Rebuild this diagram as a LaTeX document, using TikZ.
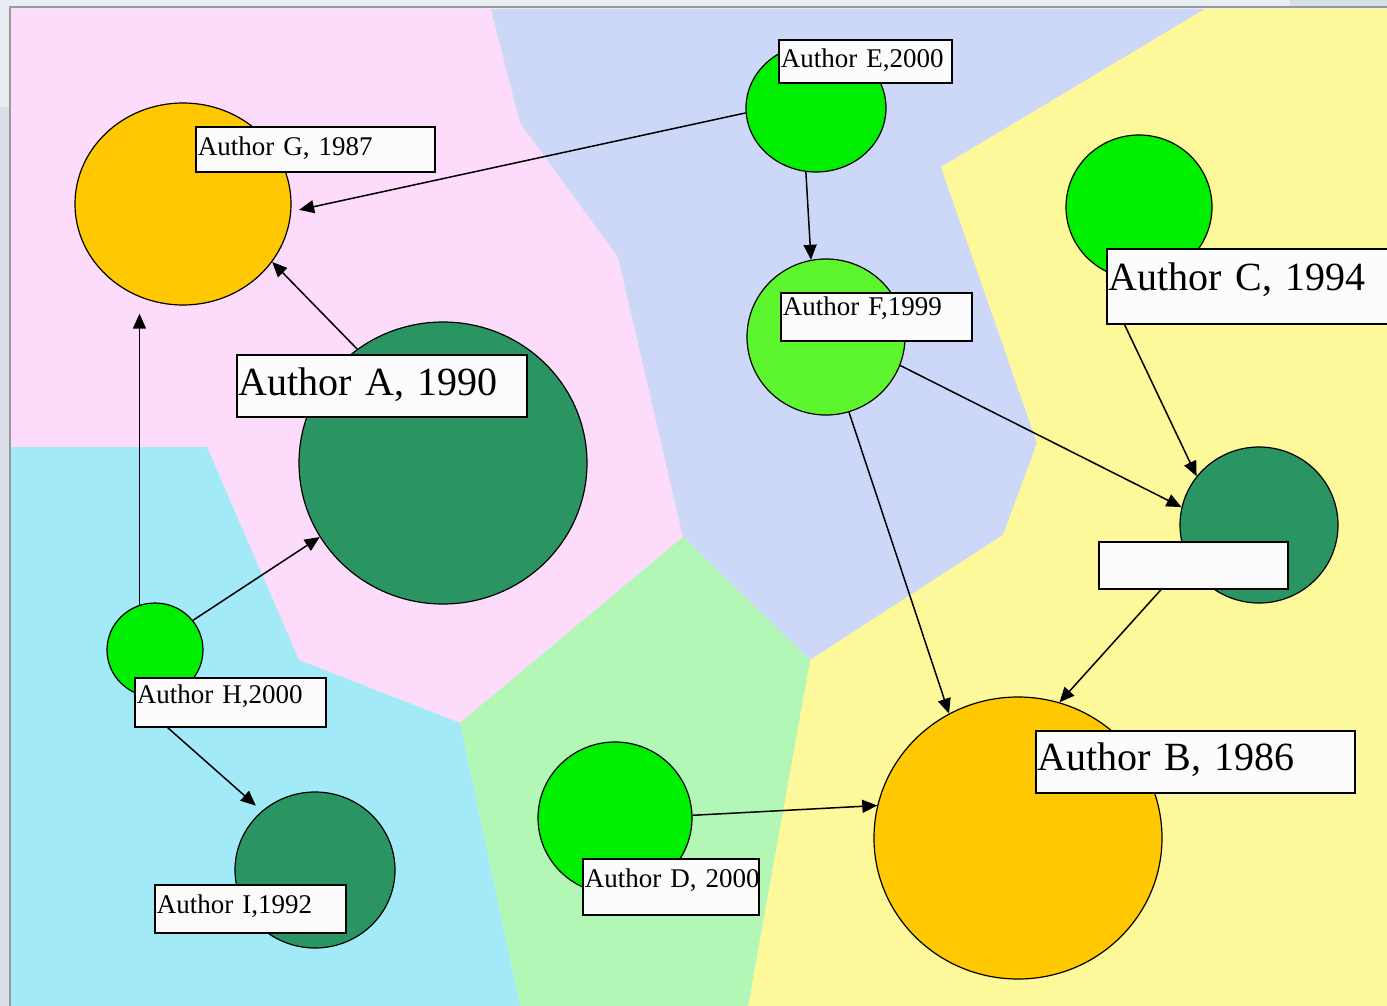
\documentclass[tikz,border=0pt]{standalone}
\usepackage{fontspec}
\setmainfont{Liberation Serif}
\usetikzlibrary{shapes.geometric,arrows.meta}

\definecolor{chrome}{HTML}{E8EEF3}
\definecolor{chromedark}{HTML}{D8DFE7}
\definecolor{framegray}{HTML}{999999}
\definecolor{regpink}{HTML}{FCDCFA}
\definecolor{regblue}{HTML}{CDD8F8}
\definecolor{regyellow}{HTML}{FDF89A}
\definecolor{reggreen}{HTML}{B2F7B5}
\definecolor{regcyan}{HTML}{A3EAF9}
\definecolor{gold}{HTML}{FFC800}
\definecolor{darkleaf}{HTML}{2A9563}
\definecolor{brightleaf}{HTML}{00EE00}
\definecolor{lightleaf}{HTML}{5CF52E}

\tikzset{
  blob/.style={ellipse,draw=black,line width=1.2pt,inner sep=0pt},
  tag/.style={draw=black,line width=1.6pt,fill=white!99!black,inner xsep=2pt,
    inner ysep=0pt,align=left,anchor=north west},
  small/.style={font=\fontsize{27pt}{30pt}\selectfont},
  big/.style={font=\fontsize{40pt}{44pt}\selectfont},
  cite/.style={-{Triangle[length=15pt,width=13pt]},line width=1.5pt}
}

\begin{document}
\begin{tikzpicture}[x=1pt,y=-1pt]
  \useasboundingbox (0,0) rectangle (1387,1006);
  \clip (0,0) rectangle (1387,1006);

  % window frame
  \fill[chrome] (0,0) rectangle (1387,1006);
  \fill[chromedark] (0,107) rectangle (9,1006);
  \fill[chromedark] (1290,0) rectangle (1387,6);
  \draw[framegray,line width=2.5pt] (10,1006) -- (10,7) -- (1387,7);

  % regions
  \fill[regpink] (11,9) -- (491,9) -- (520,123) -- (540,150) -- (618,257)
    -- (683,537) -- (460,723) -- (299,660) -- (207,447) -- (11,447) -- cycle;
  \fill[regblue] (491,9) -- (1205,9) -- (941,167) -- (1037,443) -- (1003,535)
    -- (810,660) -- (683,537) -- (618,257) -- (540,150) -- (520,123) -- cycle;
  \fill[regyellow] (1205,9) -- (1387,9) -- (1387,1006) -- (748,1006)
    -- (810,660) -- (1003,535) -- (1037,443) -- (941,167) -- cycle;
  \fill[reggreen] (460,723) -- (683,537) -- (810,660) -- (748,1006)
    -- (520,1006) -- cycle;
  \fill[regcyan] (11,447) -- (207,447) -- (299,660) -- (460,723)
    -- (520,1006) -- (11,1006) -- cycle;

  % circles
  \node[blob,fill=gold,minimum width=216pt,minimum height=202pt] (G) at (183,204) {};
  \node[blob,fill=darkleaf,minimum width=288pt,minimum height=282pt] (A) at (443,463) {};
  \node[blob,fill=brightleaf,minimum width=140pt,minimum height=128pt] (E) at (816,108) {};
  \node[blob,fill=lightleaf,minimum width=158pt,minimum height=156pt] (F) at (826,337) {};
  \node[blob,fill=brightleaf,minimum width=146pt,minimum height=144pt] (C) at (1139,207) {};
  \node[blob,fill=darkleaf,minimum width=158pt,minimum height=156pt] (X) at (1259,525) {};
  \node[blob,fill=brightleaf,minimum width=96pt,minimum height=94pt] (H) at (155,650) {};
  \node[blob,fill=darkleaf,minimum width=160pt,minimum height=156pt] (I) at (315,870) {};
  \node[blob,fill=brightleaf,minimum width=154pt,minimum height=152pt] (D) at (615,818) {};
  \node[blob,fill=gold,minimum width=288pt,minimum height=282pt] (B) at (1018,838) {};

  % labels
  \node[tag,small,text width=235pt,text height=29pt,text depth=16pt] (labG) at (195,126) {Author G, 1987};
  \node[tag,big,text width=286pt,text height=41pt,text depth=21pt] (labA) at (236,354) {Author A, 1990};
  \node[tag,small,text width=169pt,text height=28pt,text depth=15pt] (labE) at (778,39) {Author E,2000};
  \node[tag,small,text width=187pt,text height=23pt,text depth=25pt] (labF) at (780,292) {Author F,1999};
  \node[tag,big,text width=282pt,text height=42pt,text depth=33pt] (labC) at (1106,248) {Author C, 1994};
  \node[tag,small,text width=185pt,text height=47pt,text depth=0pt] (labX) at (1098,541) {};
  \node[tag,small,text width=187pt,text height=26pt,text depth=23pt] (labH) at (134,677) {Author H,2000};
  \node[tag,small,text width=187pt,text height=29pt,text depth=19pt] (labI) at (154,884) {Author I,1992};
  \node[tag,small,text width=172pt,text height=29pt,text depth=27pt] (labD) at (582,858) {\mbox{Author D, 2000}};
  \node[tag,big,text width=315pt,text height=40pt,text depth=22pt] (labB) at (1035,730) {Author B, 1986};

  % citations
  \draw[cite,shorten >=8pt] (E.184) -- (G.356);
  \draw[cite] (A.127) -- (G.327);
  \draw[cite,shorten >=8pt] (H.109) -- (H.109 |- G.south);
  \draw[cite] (H.38) -- (A.211);
  \draw[cite,shorten >=8pt] (labH.202) -- (I.132);
  \draw[cite] (E.261) -- (F.101);
  \draw[cite] (F.339) -- (X.167);
  \draw[cite] (labC.197) -- (X.142);
  \draw[cite] (F.287) -- (B.119);
  \draw[cite] (labX.217) -- (B.73);
  \draw[cite] (D.2) -- (B.167);
\end{tikzpicture}
\end{document}
